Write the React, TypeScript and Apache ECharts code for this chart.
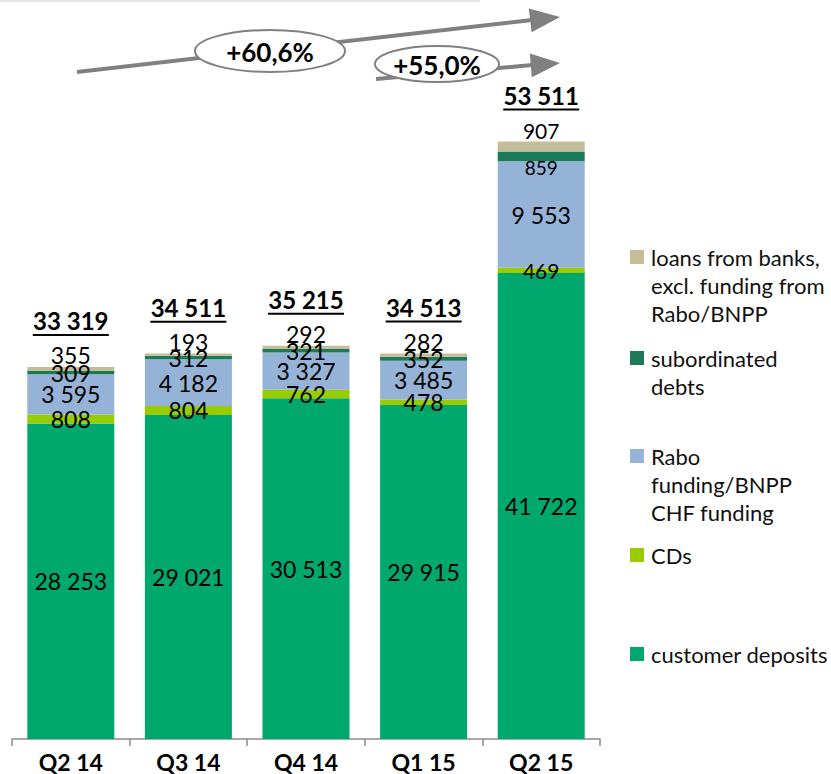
import React, { useEffect, useRef } from "react";
import * as echarts from "echarts";

const categories = ["Q2 14", "Q3 14", "Q4 14", "Q1 15", "Q2 15"];
const customerDeposits = [28253, 29021, 30513, 29915, 41722];
const cds = [808, 804, 762, 478, 469];
const raboFunding = [3595, 4182, 3327, 3485, 9553];
const subordinatedDebts = [309, 312, 321, 352, 859];
const loansFromBanks = [355, 193, 292, 282, 907];
const totals = [33319, 34511, 35215, 34513, 53511];

const seriesNames = ["customer deposits", "CDs", "Rabo funding/BNPP CHF funding", "subordinated debts", "loans from banks, excl. funding from Rabo/BNPP"];
const legendLines = [
  ["customer deposits"],
  ["CDs"],
  ["Rabo", "funding/BNPP", "CHF funding"],
  ["subordinated", "debts"],
  ["loans from banks,", "excl. funding from", "Rabo/BNPP"],
];
const colors = ["#00A86E", "#99CC00", "#95B3D7", "#1B7A58", "#C4BD97"];
const growthLabels = ["+60,6%", "+55,0%"];

const FONT = "Lato, 'Open Sans', sans-serif";
const fmt = (v: number) => String(v).replace(/\B(?=(\d{3})+(?!\d))/g, " ");

export default function App() {
  const ref = useRef<HTMLDivElement>(null);
  useEffect(() => {
    if (!ref.current) return;
    const chart = echarts.init(ref.current, undefined, { renderer: "svg" });
    const legendIconCentres = [654, 555, 456, 358, 257];
    const LH = 28;
    const legends = seriesNames.map((name, i) => {
      const n = legendLines[i].length;
      const h = (2 * n - 1) * LH;
      const lines = [...Array(n - 1).fill(""), ...legendLines[i]];
      return {
        data: [name],
        orient: "vertical",
        left: 630,
        padding: 0,
        top: legendIconCentres[i] - h / 2,
        icon: "rect",
        itemWidth: 14,
        itemHeight: 14,
        itemGap: 0,
        selectedMode: false,
        formatter: () => lines.join("\n"),
        textStyle: {
          fontFamily: FONT,
          fontSize: 22,
          color: "#111",
          lineHeight: LH,
          padding: [0, 0, 0, 2],
        },
      };
    });
    const valueArrays = [customerDeposits, cds, raboFunding, subordinatedDebts, loansFromBanks];
    const labelPositions = ["inside", "inside", "inside", "inside", "top"];
    const barSeries = valueArrays.map((arr, s) => ({
      name: seriesNames[s],
      type: "bar",
      stack: "total",
      barWidth: 87,
      itemStyle: { color: colors[s] },
      label: {
        show: true,
        position: labelPositions[s],
        distance: 0,
        color: "#000",
        fontFamily: FONT,
        fontSize: 23,
        formatter: (p: any) => fmt(p.value),
      },
      data: arr.map((v, i) => {
        if (i === 4 && s === 3) return { value: v, label: { offset: [0, 11], fontSize: 19 } };
        if (i === 4 && s === 4) return { value: v, label: { fontSize: 21 } };
        if (i === 4 && s === 1) return { value: v, label: { fontSize: 21 } };
        return v;
      }),
    }));
    const TOTAL_OFFSET = 46;
    chart.setOption({
      animation: false,
      grid: { left: 12, right: 231, top: 69, bottom: 35 },
      xAxis: {
        type: "category",
        data: categories,
        axisLine: { lineStyle: { color: "#8c8c8c", width: 1.5 } },
        axisTick: { show: true, length: 7, lineStyle: { color: "#8c8c8c", width: 1.5 } },
        axisLabel: { color: "#000", fontWeight: "bold", fontSize: 23, fontFamily: FONT, margin: 11 },
      },
      yAxis: { type: "value", min: 0, max: 60000, show: false, splitLine: { show: false } },
      legend: legends,
      series: [
        ...barSeries,
        {
          type: "custom",
          name: "totals",
          coordinateSystem: "cartesian2d",
          clip: false,
          z: 10,
          encode: { x: 0, y: 1 },
          data: totals.map((t, i) => [i, t]),
          renderItem: (params: any, api: any) => {
            const p = api.coord([api.value(0), api.value(1)]);
            const y = p[1] - TOTAL_OFFSET;
            return {
              type: "group",
              children: [
                {
                  type: "text",
                  x: p[0],
                  y,
                  style: { text: fmt(api.value(1)), fill: "#000", font: `bold 24px ${FONT}`, align: "center", verticalAlign: "middle" },
                },
                { type: "line", shape: { x1: p[0] - 38, y1: y + 14, x2: p[0] + 38, y2: y + 14 }, style: { stroke: "#000", lineWidth: 2 } },
              ],
            };
          },
        },
      ],
      graphic: [
        { type: "line", shape: { x1: 0, y1: 1, x2: 480, y2: 1 }, style: { stroke: "#e6e6e6", lineWidth: 2 } },
        { type: "line", shape: { x1: 77, y1: 72, x2: 532, y2: 20 }, style: { stroke: "#808080", lineWidth: 4 } },
        { type: "polygon", shape: { points: [[560, 17], [531.6, 32.3], [528.8, 8.5]] }, style: { fill: "#808080" } },
        { type: "line", shape: { x1: 376, y1: 79, x2: 532, y2: 65 }, style: { stroke: "#808080", lineWidth: 4 } },
        { type: "polygon", shape: { points: [[560, 63], [531.8, 77.3], [529.8, 53.4]] }, style: { fill: "#808080" } },
        { type: "ellipse", shape: { cx: 270, cy: 51, rx: 75, ry: 21 }, style: { fill: "#fff", stroke: "#808080", lineWidth: 2 } },
        { type: "text", x: 270, y: 52, style: { text: growthLabels[0], font: `bold 26px ${FONT}`, fill: "#000", align: "center", verticalAlign: "middle" } },
        { type: "ellipse", shape: { cx: 437, cy: 64, rx: 62, ry: 18 }, style: { fill: "#fff", stroke: "#808080", lineWidth: 2 } },
        { type: "text", x: 437, y: 65, style: { text: growthLabels[1], font: `bold 26px ${FONT}`, fill: "#000", align: "center", verticalAlign: "middle" } },
      ],
    });
    return () => chart.dispose();
  }, []);
  return <div ref={ref} style={{ width: 831, height: 774, position: "absolute", left: 0, top: 0 }} />;
}
